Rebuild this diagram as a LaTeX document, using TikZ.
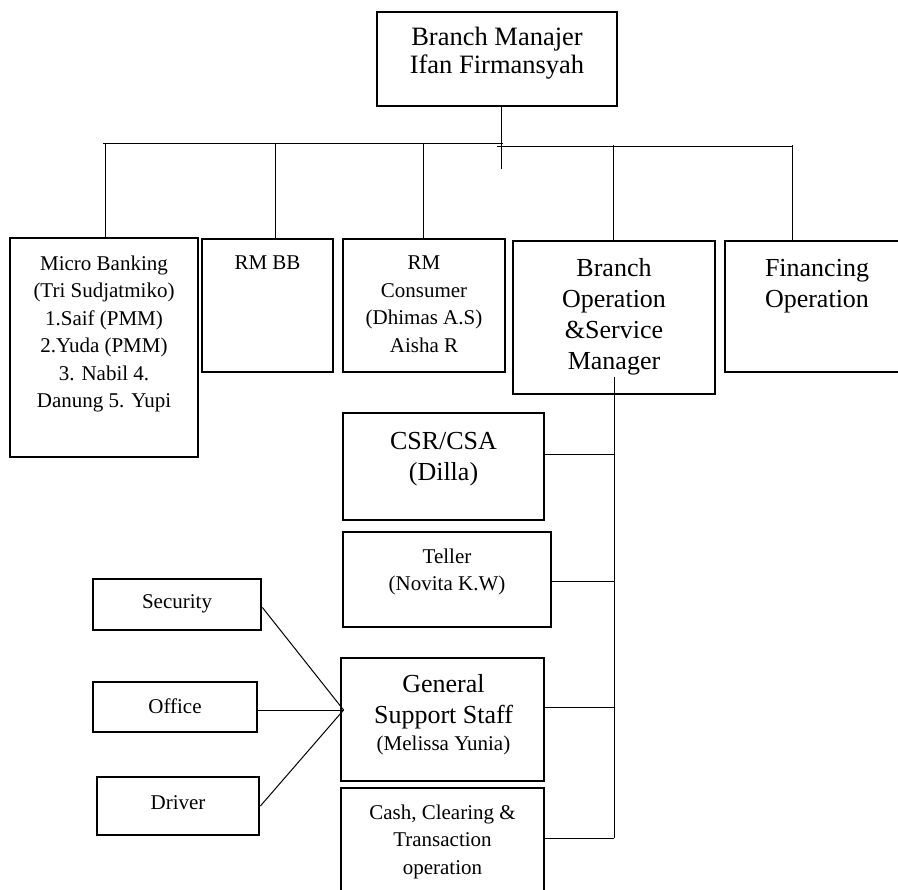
\documentclass[tikz,border=0pt]{standalone}
\usepackage{fontspec}
\setmainfont{Liberation Serif}
\usetikzlibrary{calc}
\begin{document}
\begin{tikzpicture}[x=1pt,y=-1pt,
  box/.style={draw, line width=2.8pt, inner sep=0pt, fill=none},
  txt/.style={inner sep=0pt, align=center, anchor=north},
  small/.style={font=\fontsize{21}{27.5}\selectfont},
  big/.style={font=\fontsize{26}{31}\selectfont},
  conn/.style={line width=1pt}]
\useasboundingbox (0,0) rectangle (898,890);
% boxes
\node[box, minimum width=240pt, minimum height=94pt] (bm) at (497,59) {};
\node[box, minimum width=188pt, minimum height=219pt] (mb) at (104,347.5) {};
\node[box, minimum width=131pt, minimum height=133pt] (rmbb) at (267.5,305.5) {};
\node[box, minimum width=162pt, minimum height=133pt] (rmc) at (424,305.5) {};
\node[box, minimum width=202pt, minimum height=153pt] (bos) at (614,317.5) {};
\node[box, minimum width=180pt, minimum height=131pt] (fin) at (815,306.5) {};
\node[box, minimum width=201pt, minimum height=107pt] (csr) at (443.5,466.5) {};
\node[box, minimum width=208pt, minimum height=95pt] (tel) at (447,579.5) {};
\node[box, minimum width=203pt, minimum height=123pt] (gss) at (442.5,719.5) {};
\node[box, minimum width=203pt, minimum height=112pt] (cash) at (442.5,844) {};
\node[box, minimum width=168pt, minimum height=51pt] (sec) at (177,604.5) {};
\node[box, minimum width=164pt, minimum height=50pt] (off) at (175,707) {};
\node[box, minimum width=162pt, minimum height=58pt] (drv) at (178,806) {};
% texts
\node[txt, font=\fontsize{26.5}{28.5}\selectfont] (tbm) at ($(bm.north)+(0,16)$) {Branch Manajer\\Ifan Firmansyah};
\node[txt, small] (tmb) at ($(mb.north)+(0,19)$) {Micro Banking\\(Tri Sudjatmiko)\\1.Saif (PMM)\\2.Yuda (PMM)\\3. Nabil 4.\\Danung 5. Yupi};
\node[txt, small] (trmbb) at ($(rmbb.north)+(0,18)$) {RM BB};
\node[txt, small] (trmc) at ($(rmc.north)+(0,18)$) {RM\\Consumer\\(Dhimas A.S)\\Aisha R};
\node[txt, big] (tbos) at ($(bos.north)+(0,19)$) {Branch\\Operation\\\&Service\\Manager};
\node[txt, big] (tfin) at ($(fin.north)+(2,19)$) {Financing\\Operation};
\node[txt, big] (tcsr) at ($(csr.north)+(0,20)$) {CSR/CSA\\(Dilla)};
\node[txt, small] (ttel) at ($(tel.north)+(0,18)$) {Teller\\(Novita K.W)};
\node[txt, big] (tgss) at ($(gss.north)+(1,18)$) {General\\Support Staff\\[-4pt]{\fontsize{21}{27.5}\selectfont (Melissa Yunia)}};
\node[txt, small] (tcash) at ($(cash.north)+(0,18)$) {Cash, Clearing \&\\Transaction\\operation};
\node[inner sep=0pt, small] (tsec) at ($(sec)+(0,-1)$) {Security};
\node[inner sep=0pt, small] (toff) at ($(off)+(0,-1)$) {Office};
\node[inner sep=0pt, small] (tdrv) at ($(drv)+(0,-3)$) {Driver};
% top bus
\coordinate (top1) at ($(bm.south)+(4,0)$);
\coordinate (busL) at (103,144);
\coordinate (busM) at (503,144);
\coordinate (busM2) at (497,146.5);
\coordinate (busR) at (792,146.5);
\draw[conn] (top1) -- ++(0,62);
\draw[conn] (busL) -- (busM);
\draw[conn] (busM2) -- (busR);
\draw[conn] ($(mb.north)+(1,0)$) -- ++(0,-94);
\draw[conn] ($(rmbb.north)+(7.5,0)$) -- ++(0,-95);
\draw[conn] ($(rmc.north)+(-1,0)$) -- ++(0,-95);
\draw[conn] ($(bos.north)+(-1,0)$) -- ++(0,-94.5);
\draw[conn] ($(fin.north)+(-23,0)$) -- ++(0,-94.5);
% spine
\coordinate (spT) at (614,377);
\coordinate (spB) at (614,838);
\draw[conn] (spT) -- (spB);
\draw[conn] ($(csr.east)+(0,-11.5)$) -- (spT |- {$(csr.east)+(0,-11.5)$});
\draw[conn] ($(tel.east)+(0,2.5)$) -- (spT |- {$(tel.east)+(0,2.5)$});
\draw[conn] ($(gss.east)+(0,-12.5)$) -- (spT |- {$(gss.east)+(0,-12.5)$});
\draw[conn] ($(cash.east)+(0,-6)$) -- (spB);
% left staff
\coordinate (gin) at ($(gss.west)+(4,-9.5)$);
\draw[conn] ($(sec.east)+(0,3)$) -- (gin);
\draw[conn] ($(off.east)+(0,3)$) -- (gin);
\draw[conn] (drv.east) -- (gin);
\end{tikzpicture}
\end{document}
